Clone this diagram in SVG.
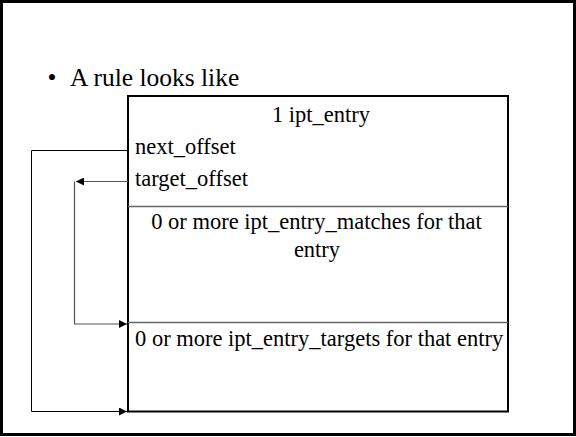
<svg xmlns="http://www.w3.org/2000/svg" width="576" height="437" viewBox="0 0 576 437">
  <style>
    .title { font-family: 'Liberation Serif', 'DejaVu Serif', serif; font-size: 25.5px; fill: #000; }
    .lbl { font-family: 'Liberation Serif', 'DejaVu Serif', serif; font-size: 22.5px; fill: #000; }
    .mid { text-anchor: middle; }
    .frame { fill: none; stroke: #000; stroke-width: 3; }
    .box { fill: #fff; stroke: #000; stroke-width: 2; }
    .div { stroke: #666; stroke-width: 1.3; }
    .wire { fill: none; stroke: #000; stroke-width: 1; }
    .wire2 { fill: none; stroke: #555; stroke-width: 1.2; }
  </style>
  <defs>
    <marker id="arrow" viewBox="0 0 10 10" refX="10" refY="5" markerWidth="9" markerHeight="8" markerUnits="userSpaceOnUse" orient="auto">
      <path d="M0,0 L10,5 L0,10 Z" fill="#000"/>
    </marker>
  </defs>

  <rect class="frame" x="1.5" y="1.5" width="573" height="433"/>

  <g id="heading">
    <text class="title" x="47.5" y="85.5">•</text>
    <text class="title" x="70" y="85.5">A rule looks like</text>
  </g>

  <g id="rule">
    <rect class="box" x="128" y="96" width="380" height="315.5"/>
    <line class="div" x1="128" y1="206.5" x2="508" y2="206.5"/>
    <line class="div" x1="128" y1="322.5" x2="508" y2="322.5"/>
  </g>

  <g id="ipt_entry">
    <text class="lbl mid" x="321" y="121.5">1 ipt_entry</text>
    <text class="lbl" x="135" y="153.5">next_offset</text>
    <text class="lbl" x="135" y="185.5">target_offset</text>
  </g>

  <g id="matches">
    <text class="lbl mid" x="316.5" y="228.5">0 or more ipt_entry_matches for that</text>
    <text class="lbl mid" x="317" y="256.5">entry</text>
  </g>

  <g id="targets">
    <text class="lbl" x="135" y="346">0 or more ipt_entry_targets for that entry</text>
  </g>

  <g id="connectors">
    <polyline class="wire" points="128,150.5 31.5,150.5 31.5,411.5 127,411.5" marker-end="url(#arrow)"/>
    <line class="wire2" x1="128" y1="181.5" x2="76" y2="181.5" marker-end="url(#arrow)"/>
    <polyline class="wire2" points="74.5,181.5 74.5,324 127,324" marker-end="url(#arrow)"/>
  </g>
</svg>
